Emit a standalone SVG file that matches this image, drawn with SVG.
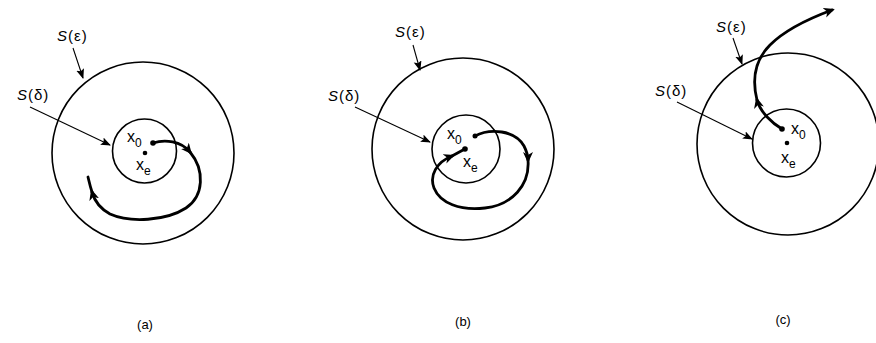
<svg xmlns="http://www.w3.org/2000/svg" width="876" height="343" viewBox="0 0 876 343">
<defs>
<style>
.c{fill:none;stroke:#000;stroke-width:1.6}
.t{fill:none;stroke:#000;stroke-width:2.8;stroke-linecap:round}
.p{fill:none;stroke:#000;stroke-width:1.1}
.lbl{font-family:"Liberation Sans",Arial,sans-serif;font-size:15px;fill:#000;letter-spacing:1px}
.s{font-style:italic}
.x{font-family:"Liberation Sans",Arial,sans-serif;font-size:16px;fill:#000}
.sub{font-size:12px}
.cap{font-family:"Liberation Sans",Arial,sans-serif;font-size:13px;fill:#000}
</style>
<marker id="ta" markerUnits="userSpaceOnUse" markerWidth="14" markerHeight="12" refX="8" refY="5" orient="auto">
<path d="M0,0 L11,5 L0,10 L3,5 z" fill="#000"/>
</marker>
<marker id="pa" markerUnits="userSpaceOnUse" markerWidth="12" markerHeight="10" refX="9" refY="4" orient="auto">
<path d="M0,0 L10,4 L0,8 L2,4 z" fill="#000"/>
</marker>
</defs>

<g id="panel-a">
<circle class="c" cx="143" cy="153" r="91"/>
<circle class="c" cx="144.5" cy="151" r="32"/>
<circle cx="145" cy="153" r="2.3" fill="#000"/>
<circle cx="153" cy="143" r="2.8" fill="#000"/>
<text class="x" x="127" y="142">x<tspan class="sub" dy="5">0</tspan></text>
<text class="x" x="136" y="170">x<tspan class="sub" dy="5">e</tspan></text>
<text class="lbl" x="57" y="41"><tspan class="s">S</tspan>(ε)</text>
<text class="lbl" x="17" y="100"><tspan class="s">S</tspan>(δ)</text>
</g>

<g id="panel-b">
<circle class="c" cx="463" cy="149" r="91"/>
<circle class="c" cx="466" cy="149" r="34"/>
<circle cx="465" cy="149" r="2.8" fill="#000"/>
<circle cx="475" cy="136" r="2.5" fill="#000"/>
<text class="x" x="447" y="139">x<tspan class="sub" dy="5">0</tspan></text>
<text class="x" x="463" y="167">x<tspan class="sub" dy="5">e</tspan></text>
<text class="lbl" x="395" y="37"><tspan class="s">S</tspan>(ε)</text>
<text class="lbl" x="328" y="101"><tspan class="s">S</tspan>(δ)</text>
</g>

<g id="panel-c">
<circle class="c" cx="788" cy="144" r="91"/>
<circle class="c" cx="786.5" cy="143" r="34"/>
<circle cx="787" cy="143" r="2.3" fill="#000"/>
<circle cx="782" cy="129" r="2.8" fill="#000"/>
<text class="x" x="791" y="134">x<tspan class="sub" dy="5">0</tspan></text>
<text class="x" x="781" y="163">x<tspan class="sub" dy="5">e</tspan></text>
<text class="lbl" x="716" y="32"><tspan class="s">S</tspan>(ε)</text>
<text class="lbl" x="655" y="96"><tspan class="s">S</tspan>(δ)</text>
</g>

<g id="captions">
<text class="cap" x="145" y="329" text-anchor="middle">(a)</text>
<text class="cap" x="463" y="326" text-anchor="middle">(b)</text>
<text class="cap" x="783" y="324" text-anchor="middle">(c)</text>
</g>

<g id="connectors">
<path class="p" d="M73,48 L83,78" marker-end="url(#pa)"/>
<path class="p" d="M30,107 L110,145" marker-end="url(#pa)"/>
<path class="p" d="M413,45 L420,70" marker-end="url(#pa)"/>
<path class="p" d="M355,107 L430,142" marker-end="url(#pa)"/>
<path class="p" d="M733,38 L742,64" marker-end="url(#pa)"/>
<path class="p" d="M677,102 L752,139" marker-end="url(#pa)"/>
<path class="t" d="M153,143 C165,139 181,141 190,152" marker-end="url(#ta)"/>
<path class="t" d="M190,152 C205,170 204,196 186,208 C166,221 130,223 110,214 C99,208 94,199 92,192" marker-end="url(#ta)"/>
<path class="t" d="M92,192 C90,186 89,181 88,177"/>
<path class="t" d="M475,136 C490,128 515,130 524,146 C527,152 528,156 528,160" marker-end="url(#ta)"/>
<path class="t" d="M528,160 C530,185 512,205 485,208 C460,211 440,203 434,188 C429,175 437,162 452,156" marker-end="url(#ta)"/>
<path class="t" d="M452,156 L463,150"/>
<path class="t" d="M782,129 C772,123 760,112 757,100" marker-end="url(#ta)"/>
<path class="t" d="M757,100 C752,80 755,60 770,45 C785,30 805,20 832,10" marker-end="url(#ta)"/>
</g>
</svg>
